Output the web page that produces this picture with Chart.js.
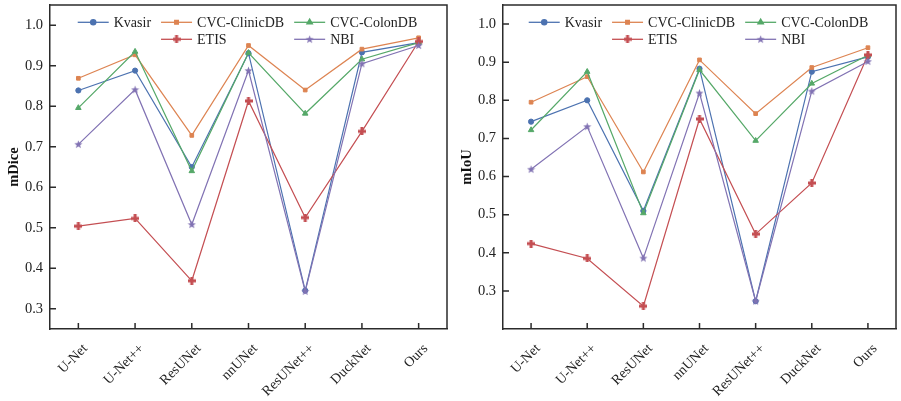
<!DOCTYPE html>
<html>
<head>
<meta charset="utf-8">
<script src="https://cdn.jsdelivr.net/npm/chart.js@4.4.1/dist/chart.umd.min.js"></script>
<style>
  body { margin: 0; background: #fff; }
  #wrap { position: relative; width: 901px; height: 401px; }
  canvas { position: absolute; top: 0; }
</style>
</head>
<body>
<div id="wrap">
  <canvas id="dice" width="452" height="401" style="left:0"></canvas>
  <canvas id="iou" width="449" height="401" style="left:452px"></canvas>
</div>
<script>
const categories = ['U-Net', 'U-Net++', 'ResUNet', 'nnUNet', 'ResUNet++', 'DuckNet', 'Ours'];
const seriesNames = ['Kvasir', 'CVC-ClinicDB', 'CVC-ColonDB', 'ETIS', 'NBI'];

// mDice
const diceKvasir = [0.839, 0.888, 0.650, 0.931, 0.345, 0.933, 0.957];
const diceClinic = [0.869, 0.927, 0.728, 0.950, 0.840, 0.941, 0.969];
const diceColon  = [0.796, 0.935, 0.640, 0.932, 0.782, 0.916, 0.957];
const diceEtis   = [0.504, 0.523, 0.369, 0.813, 0.525, 0.738, 0.960];
const diceNbi    = [0.706, 0.841, 0.508, 0.888, 0.343, 0.905, 0.950];

// mIoU
const iouKvasir = [0.744, 0.800, 0.510, 0.883, 0.273, 0.875, 0.914];
const iouClinic = [0.795, 0.862, 0.612, 0.906, 0.765, 0.886, 0.938];
const iouColon  = [0.722, 0.875, 0.504, 0.880, 0.694, 0.844, 0.918];
const iouEtis   = [0.424, 0.385, 0.260, 0.751, 0.449, 0.583, 0.919];
const iouNbi    = [0.619, 0.731, 0.386, 0.819, 0.273, 0.824, 0.902];

const diceTicks = [0.3, 0.4, 0.5, 0.6, 0.7, 0.8, 0.9, 1.0];
const iouTicks  = [0.3, 0.4, 0.5, 0.6, 0.7, 0.8, 0.9, 1.0];

const colors = ['#4c72b0', '#dd8452', '#55a868', '#c44e52', '#8172b3'];
const FONT = '"Liberation Serif", "Times New Roman", serif';
const AXIS = '#2b2b2b';
const TEXT = '#222';

// filled star / plus markers like matplotlib
function starMarker(color) {
  const c = document.createElement('canvas');
  c.width = 9; c.height = 9;
  const g = c.getContext('2d');
  g.fillStyle = color;
  g.beginPath();
  for (let i = 0; i < 10; i++) {
    const r = i % 2 === 0 ? 4.3 : 1.8;
    const a = -Math.PI / 2 + i * Math.PI / 5;
    g.lineTo(4.5 + r * Math.cos(a), 4.8 + r * Math.sin(a));
  }
  g.closePath();
  g.fill();
  return c;
}
function plusMarker(color) {
  const c = document.createElement('canvas');
  c.width = 8; c.height = 8;
  const g = c.getContext('2d');
  g.fillStyle = color;
  g.fillRect(2.5, 0, 3, 8);
  g.fillRect(0, 2.5, 8, 3);
  return c;
}
const markers = ['circle', 'rect', 'triangle', plusMarker(colors[3]), starMarker(colors[4])];
const radii = [2.6, 2.6, 3.2, 4, 4];

const frameAndLegend = {
  id: 'frameAndLegend',
  afterDraw(chart) {
    const ctx = chart.ctx;
    const a = chart.chartArea;
    const xs = chart.scales.x, ys = chart.scales.y;
    ctx.save();
    ctx.strokeStyle = AXIS;
    ctx.lineWidth = 1.5;
    ctx.beginPath();
    ctx.moveTo(a.left, a.top); ctx.lineTo(a.right, a.top); ctx.lineTo(a.right, a.bottom);
    // inward ticks
    xs.ticks.forEach((t, i) => {
      const x = xs.getPixelForTick(i);
      ctx.moveTo(x, a.bottom); ctx.lineTo(x, a.bottom - 6);
    });
    ys.ticks.forEach((t, i) => {
      const y = ys.getPixelForTick(i);
      ctx.moveTo(a.left, y); ctx.lineTo(a.left + 6, y);
    });
    ctx.stroke();

    // rotated category labels, end of text just right of the tick
    ctx.font = '14px ' + FONT;
    ctx.fillStyle = TEXT;
    ctx.textAlign = 'right';
    ctx.textBaseline = 'middle';
    xs.ticks.forEach((t, i) => {
      const x = xs.getPixelForTick(i);
      ctx.save();
      ctx.translate(x + 7, a.bottom + 17.5);
      ctx.rotate(-Math.PI / 4);
      ctx.fillText(xs.getLabelForValue(t.value), 0, 0);
      ctx.restore();
    });

    // legend: 3 columns, second row under columns 2 and 3
    ctx.textAlign = 'left';
    const cols = [[0], [1, 3], [2, 4]];
    const lineLen = 31, textGap = 5, colGap = 10;
    const widths = cols.map(c => lineLen + textGap + Math.max(...c.map(i => ctx.measureText(seriesNames[i]).width)));
    const total = widths.reduce((s, w) => s + w, 0) + colGap * (cols.length - 1);
    let x = (a.left + a.right) / 2 - total / 2 - 1;
    cols.forEach((c, ci) => {
      c.forEach((idx, row) => {
        const y = a.top + 17.3 + row * 17;
        ctx.strokeStyle = colors[idx];
        ctx.lineWidth = 1.3;
        ctx.beginPath();
        ctx.moveTo(x, y); ctx.lineTo(x + lineLen, y);
        ctx.stroke();
        ctx.fillStyle = colors[idx];
        Chart.helpers.drawPoint(ctx, { pointStyle: markers[idx], radius: radii[idx], rotation: 0, borderWidth: 1 }, x + lineLen / 2, y);
        ctx.fillStyle = TEXT;
        ctx.fillText(seriesNames[idx], x + lineLen + textGap, y + 1);
      });
      x += widths[ci] + colGap;
    });
    ctx.restore();
  }
};

function makeChart(id, title, series, yMin, yMax, yTicks, yAxisWidth, titlePad) {
  new Chart(document.getElementById(id), {
    type: 'line',
    data: {
      labels: categories,
      datasets: series.map((vals, i) => ({
        label: seriesNames[i],
        data: vals,
        borderColor: colors[i],
        backgroundColor: colors[i],
        borderWidth: 1.2,
        pointStyle: markers[i],
        pointRadius: radii[i],
        pointBorderWidth: 1,
        tension: 0,
        order: series.length - i
      }))
    },
    options: {
      responsive: false,
      animation: false,
      layout: { padding: { top: 4, right: 1, left: 0, bottom: 0 } },
      plugins: { legend: { display: false }, tooltip: { enabled: false } },
      scales: {
        x: {
          offset: true,
          grid: { display: false, drawTicks: false },
          border: { display: true, color: AXIS, width: 1.5 },
          ticks: { display: false },
          afterFit: s => { s.height = 72; s.paddingLeft = 0; s.paddingRight = 0; }
        },
        y: {
          min: yMin,
          max: yMax,
          grid: { display: false, drawTicks: false },
          border: { display: true, color: AXIS, width: 1.5 },
          afterBuildTicks: s => { s.ticks = yTicks.map(v => ({ value: v })); },
          ticks: { color: TEXT, font: { family: FONT, size: 14.5 }, padding: 7, callback: v => Number(v).toFixed(1) },
          title: { display: true, text: title, color: '#111', font: { family: FONT, size: 14.5, weight: 'bold' }, padding: { top: titlePad, bottom: 0 } },
          afterFit: s => { s.width = yAxisWidth; s.paddingTop = 0; s.paddingBottom = 0; }
        }
      }
    },
    plugins: [frameAndLegend]
  });
}

makeChart('dice', 'mDice', [diceKvasir, diceClinic, diceColon, diceEtis, diceNbi], 0.25, 1.05, diceTicks, 50, 6);
makeChart('iou', 'mIoU', [iouKvasir, iouClinic, iouColon, iouEtis, iouNbi], 0.2, 1.05, iouTicks, 51, 7);
</script>
</body>
</html>
